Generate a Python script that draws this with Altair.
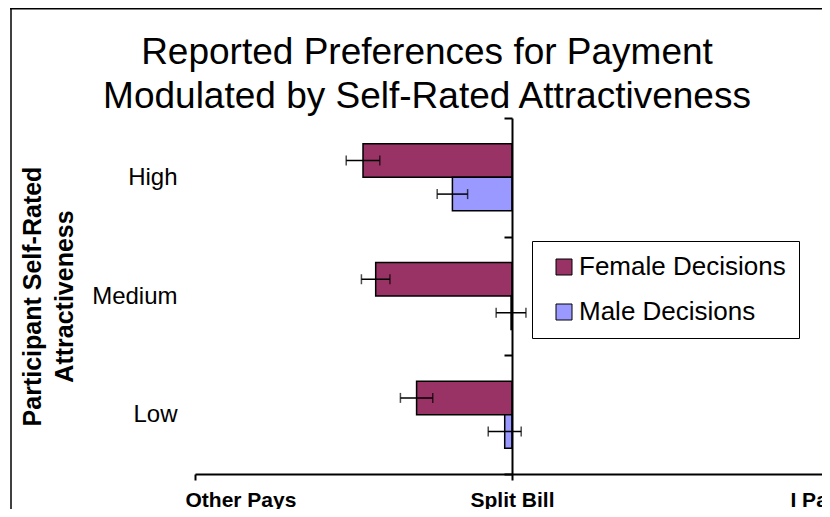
import altair as alt
import pandas as pd

categories = ["High", "Medium", "Low"]
series = ["Female Decisions", "Male Decisions"]
colors = ["#993366", "#9999FF"]
female = [-0.470, -0.430, -0.301]
male = [-0.188, -0.003, -0.023]
female_err = [0.053, 0.045, 0.051]
male_err = [0.048, 0.047, 0.052]
tick_values = [-1, 0, 1]
tick_labels = ["Other Pays", "Split Bill", "I Pay"]

rows = []
for i, c in enumerate(categories):
    for s, v, e in ((series[0], female[i], female_err[i]), (series[1], male[i], male_err[i])):
        rows.append({"level": c, "series": s, "value": v, "lo": v - e, "hi": v + e})
df = pd.DataFrame(rows)

FONT = "Liberation Sans"
label_expr = " : ".join(
    f"datum.value == {v} ? '{t}'" for v, t in zip(tick_values, tick_labels)
) + " : ''"

x_scale = alt.Scale(domain=[-1, 1], nice=False)
y_enc = alt.Y(
    "level:N",
    sort=categories,
    scale=alt.Scale(domain=categories, paddingInner=0, paddingOuter=0),
    axis=alt.Axis(
        title=["Participant Self-Rated", "Attractiveness"],
        offset=-317,
        domainColor="black",
        domainWidth=2,
        tickColor="black",
        tickWidth=2,
        tickSize=8,
        tickBand="extent",
        labelFont=FONT,
        labelFontSize=24,
        labelColor="black",
        labelPadding=327,
        labelBaseline="middle",
        titleFont=FONT,
        titleFontSize=25,
        titleFontWeight="bold",
        titleColor="black",
        titleAngle=270,
        titleAlign="center",
        titleBaseline="top",
        titleLineHeight=32,
        titleX=-492,
        titleY=178,
        grid=False,
        zindex=1,
    ),
)
yoff_enc = alt.YOffset(
    "series:N",
    sort=series,
    scale=alt.Scale(domain=series, paddingInner=0, paddingOuter=0.77),
)

base = alt.Chart(df)

bars = base.mark_bar(stroke="black", strokeWidth=1.5).encode(
    x=alt.X(
        "value:Q",
        scale=x_scale,
        axis=alt.Axis(
            title="",
            values=tick_values,
            labelExpr=label_expr,
            domainColor="black",
            domainWidth=2,
            tickColor="black",
            tickWidth=2,
            tickSize=6,
            labelFont=FONT,
            labelFontSize=21,
            labelFontWeight="bold",
            labelColor="black",
            labelPadding=9,
            labelFlush=True,
            labelFlushOffset=10,
            grid=False,
        ),
    ),
    y=y_enc,
    yOffset=yoff_enc,
    color=alt.Color(
        "series:N",
        scale=alt.Scale(domain=series, range=colors),
        legend=alt.Legend(
            title=None,
            orient="none",
            legendX=337,
            legendY=123,
            symbolType="square",
            symbolSize=256,
            symbolStrokeColor="black",
            symbolStrokeWidth=1,
            symbolOpacity=1,
            symbolOffset=6,
            labelOffset=2,
            labelFont=FONT,
            labelFontSize=26,
            labelColor="black",
            labelLimit=400,
            padding=13,
            rowPadding=19,
            strokeColor="black",
            fillColor="white",
        ),
    ),
)

err_rule = base.mark_rule(color="black", strokeWidth=1.5).encode(
    x=alt.X("lo:Q", scale=x_scale),
    x2="hi:Q",
    y=y_enc,
    yOffset=yoff_enc,
)
cap_lo = base.mark_tick(color="black", thickness=1.5, size=10).encode(
    x=alt.X("lo:Q", scale=x_scale), y=y_enc, yOffset=yoff_enc
)
cap_hi = base.mark_tick(color="black", thickness=1.5, size=10).encode(
    x=alt.X("hi:Q", scale=x_scale), y=y_enc, yOffset=yoff_enc
)

frame_df = pd.DataFrame({"k": [0]})
frame_left = alt.Chart(frame_df).mark_rule(color="#404040", strokeWidth=2).encode(
    x=alt.value(-184), y=alt.value(-110), y2=alt.value(400)
)
frame_top = alt.Chart(frame_df).mark_rule(color="black", strokeWidth=1.5).encode(
    x=alt.value(-185), x2=alt.value(700), y=alt.value(-109.3)
)

chart = (
    alt.layer(frame_left, frame_top, bars, err_rule, cap_lo, cap_hi)
    .properties(
        width=634,
        height=356,
        autosize=alt.AutoSizeParams(type="none"),
        padding={"left": 187, "top": 110, "right": -7, "bottom": 35},
        title=alt.TitleParams(
            ["Reported Preferences for Payment", "Modulated by Self-Rated Attractiveness"],
            font=FONT,
            fontSize=37,
            fontWeight="normal",
            color="black",
            anchor="middle",
            dx=-85,
            dy=113,
            lineHeight=44,
            offset=4,
        ),
        background="white",
    )
    .configure_view(strokeWidth=0)
)

chart.save("out.html", embed_options={"renderer": "svg", "actions": False})
